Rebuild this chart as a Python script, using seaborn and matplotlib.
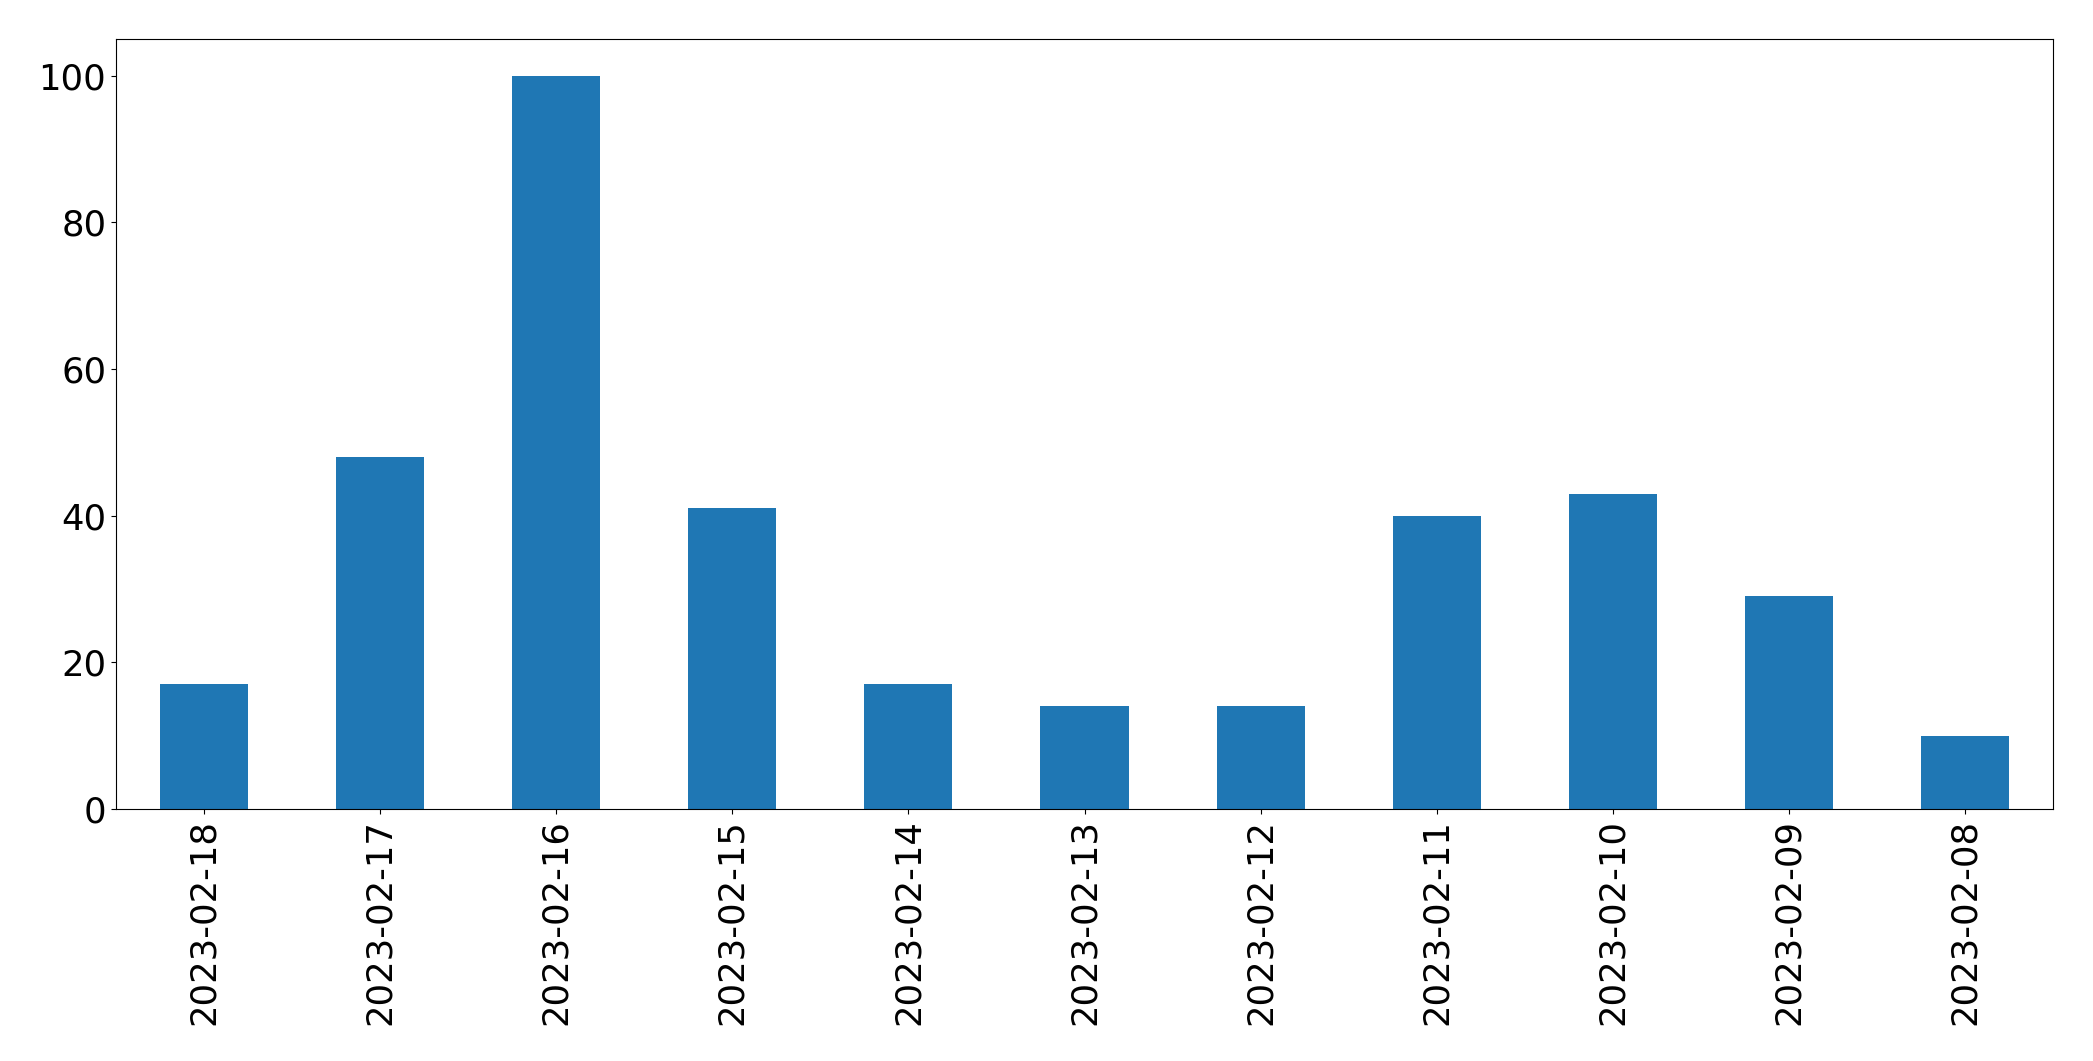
import matplotlib
matplotlib.use("Agg")
import matplotlib.pyplot as plt
import seaborn as sns

# data
dates = ["2023-02-18", "2023-02-17", "2023-02-16", "2023-02-15", "2023-02-14",
         "2023-02-13", "2023-02-12", "2023-02-11", "2023-02-10", "2023-02-09",
         "2023-02-08"]
counts = [17, 48, 100, 41, 17, 14, 14, 40, 43, 29, 10]

fig = plt.figure(figsize=(20.93, 10.61), dpi=100)
ax = fig.add_axes([116 / 2093, 1 - 809 / 1061, (2053 - 116) / 2093, (809 - 39) / 1061])

sns.barplot(x=dates, y=counts, order=dates, color="#1f77b4", saturation=1,
            width=0.5, ax=ax)

ax.set_ylim(0, 105)
ax.set_xlim(-0.5, len(dates) - 0.5)
ax.tick_params(axis="both", labelsize=25.5, color="black")
ax.tick_params(axis="x", labelrotation=90)
for s in ax.spines.values():
    s.set_color("black")
ax.set_xlabel("")
ax.set_ylabel("")

plt.savefig("out.png", dpi=100)
